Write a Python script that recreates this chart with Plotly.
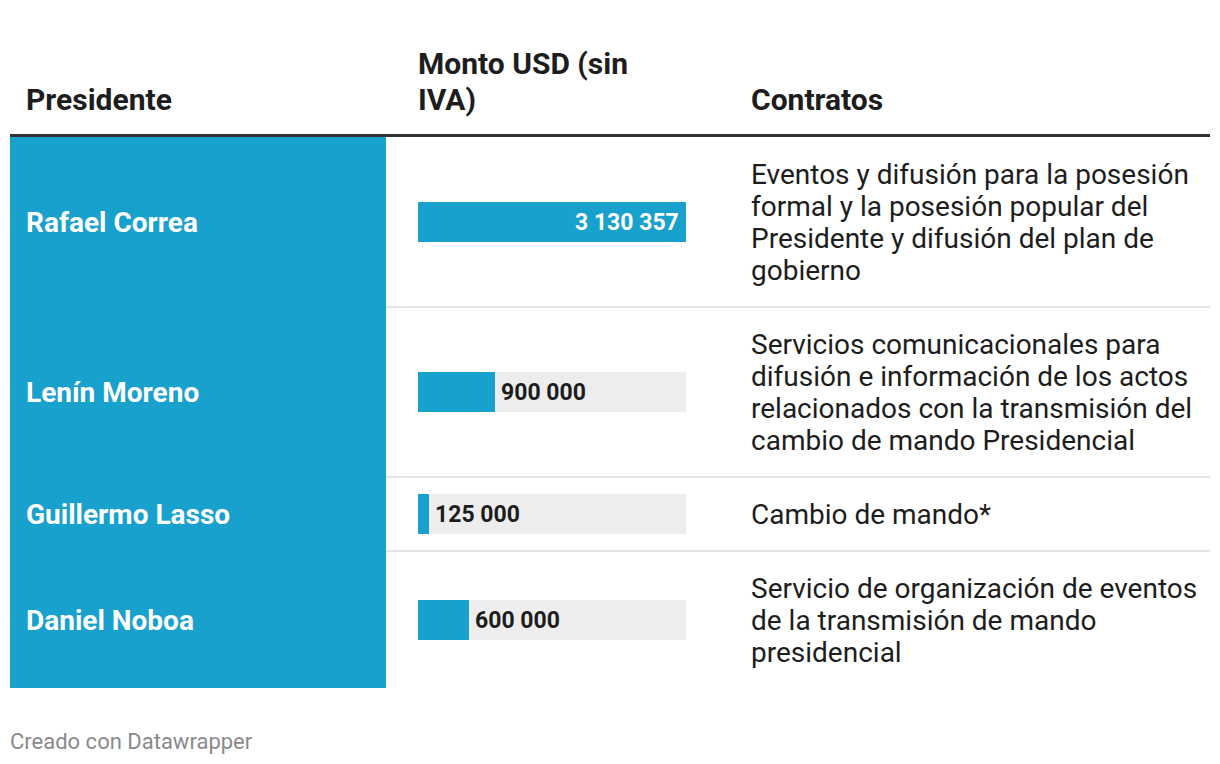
import plotly.graph_objects as go

# ---------------- data ----------------
presidentes = ["Rafael Correa", "Lenín Moreno", "Guillermo Lasso", "Daniel Noboa"]
montos = [3130357, 900000, 125000, 600000]
etiquetas = ["3 130 357", "900 000", "125 000", "600 000"]
contratos = [
    ["Eventos y difusión para la posesión", "formal y la posesión popular del",
     "Presidente y difusión del plan de", "gobierno"],
    ["Servicios comunicacionales para", "difusión e información de los actos",
     "relacionados con la transmisión del", "cambio de mando Presidencial"],
    ["Cambio de mando*"],
    ["Servicio de organización de eventos", "de la transmisión de mando", "presidencial"],
]
encabezados = [["Presidente"], ["Monto USD (sin", "IVA)"], ["Contratos"]]
pie = "Creado con Datawrapper"

# ---------------- layout helpers ----------------
W, H = 1220, 764
BLUE = "#18a1cd"
DARK = "#1d1d1d"
FONT = "Roboto"
XS = -2  # compensate annotation inner padding


def fx(x):
    return x / W


def fy(y):
    return 1 - y / H


TABLE_TOP = 137
LINE_H = 32
PAD = 42
row_h = [LINE_H * len(c) + PAD for c in contratos]
row_top = []
t = TABLE_TOP
for h in row_h:
    row_top.append(t)
    t += h
TABLE_BOTTOM = t - 1
row_mid = [rt + h / 2 for rt, h in zip(row_top, row_h)]

BAR_X0, BAR_X1 = 418, 686
vmax = max(montos)

fig = go.Figure()
fig.add_trace(go.Bar(
    x=[vmax] * len(montos), y=row_mid, orientation="h", width=40,
    marker=dict(color="#ededed", line=dict(width=0)), hoverinfo="skip", showlegend=False,
))
fig.add_trace(go.Bar(
    x=montos, y=row_mid, orientation="h", width=40,
    marker=dict(color=BLUE, line=dict(width=0)), showlegend=False,
    customdata=presidentes, hovertemplate="%{customdata}: %{x}<extra></extra>",
))

shapes = []
annotations = []

# header rule
shapes.append(dict(type="rect", xref="paper", yref="paper", x0=fx(10), x1=fx(1210),
                   y0=fy(137), y1=fy(134), fillcolor="#333333", line=dict(width=0), layer="above"))
# blue first column
shapes.append(dict(type="rect", xref="paper", yref="paper", x0=fx(10), x1=fx(386),
                   y0=fy(TABLE_BOTTOM), y1=fy(TABLE_TOP), fillcolor=BLUE, line=dict(width=0), layer="below"))
# row separators
for rt in row_top[1:]:
    shapes.append(dict(type="line", xref="paper", yref="paper", x0=fx(386), x1=fx(1210),
                       y0=fy(rt), y1=fy(rt), line=dict(color="#e5e5e5", width=2), layer="below"))

# headers (one annotation per line for tight Datawrapper-like line spacing)
hdr_font = dict(family=FONT, size=30, color=DARK, weight=700)
HDR_LINE = 36
HDR_BASE = 100
for col_x, lines in zip([26, 418, 751], encabezados):
    n = len(lines)
    for k, ln in enumerate(lines):
        annotations.append(dict(text=ln, xref="paper", yref="paper", x=fx(col_x), xshift=XS,
                                y=fy(HDR_BASE - (n - 1 - k) * HDR_LINE),
                                xanchor="left", yanchor="middle", showarrow=False, font=hdr_font))

for i in range(len(presidentes)):
    # names
    annotations.append(dict(text=presidentes[i], xref="paper", yref="y", x=fx(26), xshift=XS,
                            y=row_mid[i], xanchor="left", yanchor="middle", showarrow=False,
                            font=dict(family=FONT, size=28, color="white", weight=700)))
    # value labels
    inside = montos[i] == vmax
    annotations.append(dict(text=etiquetas[i], xref="x", yref="y", x=montos[i], y=row_mid[i],
                            xanchor="right" if inside else "left", xshift=-5 if inside else 4,
                            yanchor="middle", showarrow=False,
                            font=dict(family=FONT, size=23, color="white" if inside else DARK, weight=700)))
    # contract descriptions
    n = len(contratos[i])
    for k, ln in enumerate(contratos[i]):
        annotations.append(dict(text=ln, xref="paper", yref="y", x=fx(751), xshift=XS,
                                y=row_mid[i] + (k - (n - 1) / 2) * LINE_H,
                                xanchor="left", yanchor="middle", showarrow=False,
                                font=dict(family=FONT, size=28, color=DARK)))

annotations.append(dict(text=pie, xref="paper", yref="paper", x=fx(10), xshift=XS, y=fy(741),
                        xanchor="left", yanchor="middle", showarrow=False,
                        font=dict(family=FONT, size=22, color="#8a8a8a")))

fig.update_layout(
    width=W, height=H,
    margin=dict(l=0, r=0, t=0, b=0),
    paper_bgcolor="white", plot_bgcolor="rgba(0,0,0,0)",
    barmode="overlay", bargap=0,
    xaxis=dict(domain=[fx(BAR_X0), fx(BAR_X1)], range=[0, vmax], visible=False, fixedrange=True),
    yaxis=dict(domain=[fy(TABLE_BOTTOM), fy(TABLE_TOP)], range=[TABLE_BOTTOM, TABLE_TOP],
               visible=False, fixedrange=True),
    shapes=shapes, annotations=annotations,
    font=dict(family=FONT),
    hoverlabel=dict(font=dict(family=FONT)),
)

fig.write_html("out.html", config={"displayModeBar": False},
               post_script="document.body.style.margin='0';document.body.style.overflow='hidden';")
